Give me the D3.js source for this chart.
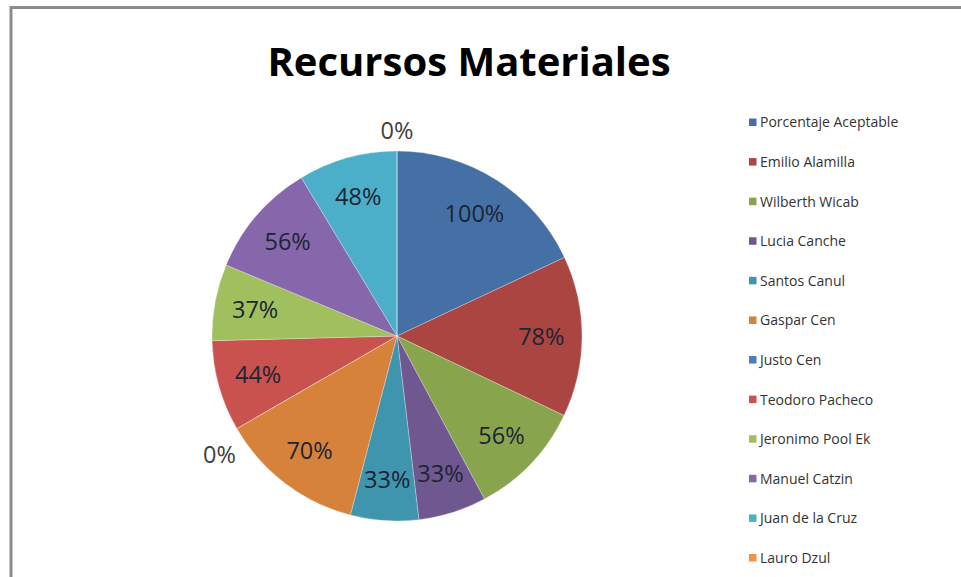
<!DOCTYPE html>
<html>
<head>
<meta charset="utf-8">
<script src="https://cdn.jsdelivr.net/npm/d3@7"></script>
<style>
  body { margin: 0; background: #fff; }
  svg { display: block; font-family: "Open Sans", sans-serif; }
</style>
</head>
<body>
<script>
const width = 961;
const height = 577;

const names = [
    'Porcentaje Aceptable', 'Emilio Alamilla', 'Wilberth Wicab', 'Lucia Canche',
    'Santos Canul', 'Gaspar Cen', 'Justo Cen', 'Teodoro Pacheco',
    'Jeronimo Pool Ek', 'Manuel Catzin', 'Juan de la Cruz', 'Lauro Dzul'
];
const values = [100, 78, 56, 33, 33, 70, 0, 44, 37, 56, 48, 0];
const sliceColors = [
    '#4470a6', '#aa4542', '#88a54d', '#6f5790', '#3f95ad', '#d7823b',
    '#4a7ebb', '#c9514e', '#a0c05e', '#8767ab', '#4bafc9', '#f6923f'
];

const data = names.map((name, i) => ({ name: name, value: values[i], color: sliceColors[i] }));

const cx = 397;
const cy = 336;
const radius = 185;

const svg = d3.select("body")
    .append("svg")
    .attr("width", width)
    .attr("height", height);

// frame (only top and left edges are visible in the crop)
svg.append("line")
    .attr("x1", 11).attr("x2", width)
    .attr("y1", 7.5).attr("y2", 7.5)
    .attr("stroke", "#8c8c8c")
    .attr("stroke-width", 3);
svg.append("line")
    .attr("x1", 11).attr("x2", 11)
    .attr("y1", 6).attr("y2", height)
    .attr("stroke", "#8c8c8c")
    .attr("stroke-width", 3);

svg.append("text")
    .attr("x", 469)
    .attr("y", 76)
    .attr("text-anchor", "middle")
    .style("font-size", "40px")
    .style("font-weight", "bold")
    .attr("fill", "#000")
    .text("Recursos Materiales");

const pie = d3.pie()
    .sort(null)
    .value(d => d.value);

const arc = d3.arc()
    .innerRadius(0)
    .outerRadius(radius);

const labelArc = d3.arc()
    .innerRadius(radius * 0.78)
    .outerRadius(radius * 0.78);

const outerArc = d3.arc()
    .innerRadius(radius + 20)
    .outerRadius(radius + 20);

const arcs = pie(data);

const plot = svg.append("g")
    .attr("transform", `translate(${cx},${cy})`);

plot.selectAll("path")
    .data(arcs)
    .enter()
    .append("path")
    .attr("d", arc)
    .attr("fill", d => d.data.color)
    .attr("stroke", "rgba(255,255,255,0.35)")
    .attr("stroke-width", 0.8);

plot.selectAll("text.pct")
    .data(arcs)
    .enter()
    .append("text")
    .attr("class", "pct")
    .attr("transform", d => {
        const p = d.value === 0 ? outerArc.centroid(d) : labelArc.centroid(d);
        return `translate(${p[0]},${p[1] + (d.value === 0 && p[1] > 0 ? 16 : 0)})`;
    })
    .attr("text-anchor", "middle")
    .attr("dy", "0.35em")
    .style("font-size", "23.5px")
    .attr("fill", d => d.value === 0 ? "#404040" : "#1e2433")
    .text(d => d.value + "%");

const legendY = d3.scalePoint()
    .domain(names)
    .range([122.5, 558]);

const legend = svg.append("g")
    .attr("transform", "translate(749,0)");

const legendRows = legend.selectAll("g")
    .data(data)
    .enter()
    .append("g")
    .attr("transform", d => `translate(0,${legendY(d.name)})`);

legendRows.append("rect")
    .attr("x", 0)
    .attr("y", -4)
    .attr("width", 7.5)
    .attr("height", 7.5)
    .attr("fill", d => d.color);

legendRows.append("text")
    .attr("x", 11)
    .attr("dy", "0.35em")
    .style("font-size", "14px")
    .attr("fill", "#333")
    .text(d => d.name);
</script>
</body>
</html>
